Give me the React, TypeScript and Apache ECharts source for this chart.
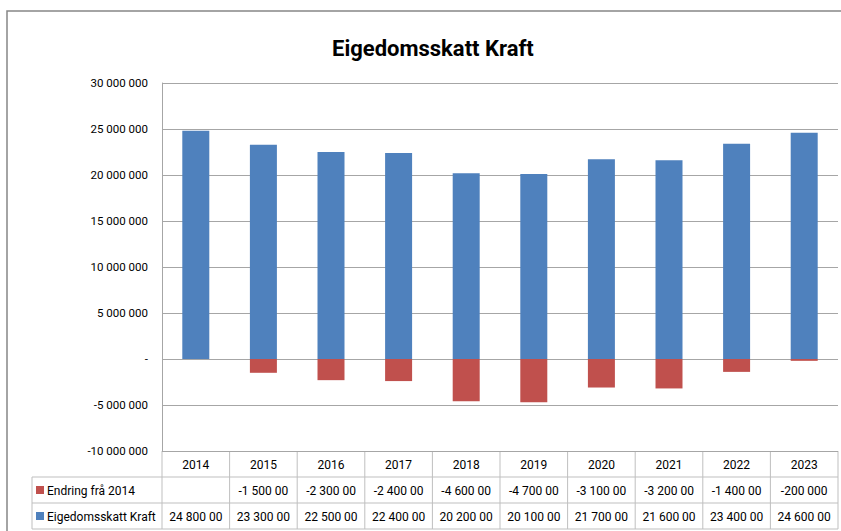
import React, { useEffect, useRef } from "react";
import * as echarts from "echarts";

const years = ["2014", "2015", "2016", "2017", "2018", "2019", "2020", "2021", "2022", "2023"];
const skatt = [24800000, 23300000, 22500000, 22400000, 20200000, 20100000, 21700000, 21600000, 23400000, 24600000];
const endring: (number | null)[] = [null, -1500000, -2300000, -2400000, -4600000, -4700000, -3100000, -3200000, -1400000, -200000];
const yTicks = { min: -10000000, max: 30000000, interval: 5000000 };

const titleText = "Eigedomsskatt Kraft";
const nameSkatt = "Eigedomsskatt Kraft";
const nameEndring = "Endring frå 2014";

const BLUE = "#4F81BD";
const RED = "#C0504D";
const FONT = "Roboto, 'Liberation Sans', sans-serif";

function fmt(v: number): string {
  if (v === 0) return "-";
  const neg = v < 0;
  const s = Math.abs(Math.round(v)).toString().replace(/\B(?=(\d{3})+(?!\d))/g, " ");
  return (neg ? "-" : "") + s;
}
function cell(v: number | null): string {
  if (v === null) return "";
  return fmt(v).slice(0, 9);
}

export default function App() {
  const ref = useRef<HTMLDivElement>(null);
  useEffect(() => {
    if (!ref.current) return;
    const chart = echarts.init(ref.current, null, { renderer: "svg" });
    const gl = 162, gr = 838, gt = 83, gb = 451;
    const rowH = 26;
    const n = years.length;
    const colW = (gr - gl) / n;
    const lineC = "#bfbfbf";
    const tf = `12px ${FONT}`;
    const g: any[] = [];
    // outer frame
    g.push({ type: "rect", shape: { x: 7, y: 11, width: 900, height: 600 }, style: { fill: "none", stroke: "#868686", lineWidth: 1.5 }, silent: true });
    // table lines
    g.push({ type: "line", shape: { x1: 32, y1: gb + rowH, x2: gr, y2: gb + rowH }, style: { stroke: lineC } });
    g.push({ type: "line", shape: { x1: 32, y1: gb + 2 * rowH, x2: gr, y2: gb + 2 * rowH }, style: { stroke: lineC } });
    g.push({ type: "line", shape: { x1: 32, y1: gb + 3 * rowH, x2: gr, y2: gb + 3 * rowH }, style: { stroke: lineC } });
    g.push({ type: "line", shape: { x1: 32, y1: gb + rowH, x2: 32, y2: gb + 3 * rowH }, style: { stroke: lineC } });
    for (let i = 0; i <= n; i++) {
      const x = gl + i * colW;
      g.push({ type: "line", shape: { x1: x, y1: gb, x2: x, y2: gb + 3 * rowH }, style: { stroke: lineC } });
    }
    years.forEach((yr, i) => {
      const cx = gl + (i + 0.5) * colW;
      g.push({ type: "text", x: cx, y: gb + rowH / 2 + 1, style: { text: yr, fill: "#000", font: tf, textAlign: "center", textVerticalAlign: "middle" } });
      g.push({ type: "text", x: cx, y: gb + rowH * 1.5 + 1, style: { text: cell(endring[i]), fill: "#000", font: tf, textAlign: "center", textVerticalAlign: "middle" } });
      g.push({ type: "text", x: cx, y: gb + rowH * 2.5 + 1, style: { text: cell(skatt[i]), fill: "#000", font: tf, textAlign: "center", textVerticalAlign: "middle" } });
    });
    [[nameEndring, RED], [nameSkatt, BLUE]].forEach(([name, col], k) => {
      const cy = gb + rowH * (1.5 + k);
      g.push({ type: "rect", shape: { x: 36, y: cy - 4, width: 8, height: 8 }, style: { fill: col } });
      g.push({ type: "text", x: 47, y: cy + 1, style: { text: name, fill: "#000", font: tf, textAlign: "left", textVerticalAlign: "middle" } });
    });

    chart.setOption({
      animation: false,
      backgroundColor: "#fff",
      title: {
        text: titleText,
        left: 327,
        top: 32,
        textStyle: { fontFamily: FONT, fontSize: 22, fontWeight: "bold", color: "#000" },
      },
      grid: { left: gl, right: 841 - gr, top: gt, bottom: 531 - gb, containLabel: false },
      xAxis: {
        type: "category",
        data: years,
        axisLabel: { show: false },
        axisTick: { show: false },
        axisLine: { show: false },
      },
      yAxis: {
        type: "value",
        min: yTicks.min,
        max: yTicks.max,
        interval: yTicks.interval,
        axisLine: { show: true, lineStyle: { color: "#a6a6a6" } },
        axisTick: { show: false },
        splitLine: { lineStyle: { color: "#a6a6a6", width: 1 } },
        axisLabel: { formatter: (v: number) => fmt(v), color: "#000", fontFamily: FONT, fontSize: 11.5, margin: 14 },
      },
      series: [
        { name: nameSkatt, type: "bar", data: skatt, itemStyle: { color: BLUE }, barWidth: 27, barGap: "-100%" },
        { name: nameEndring, type: "bar", data: endring, itemStyle: { color: RED }, barWidth: 27, barGap: "-100%" },
      ],
      graphic: g,
    });
    return () => chart.dispose();
  }, []);
  return <div ref={ref} style={{ position: "fixed", left: 0, top: 0, width: 841, height: 531 }} />;
}
